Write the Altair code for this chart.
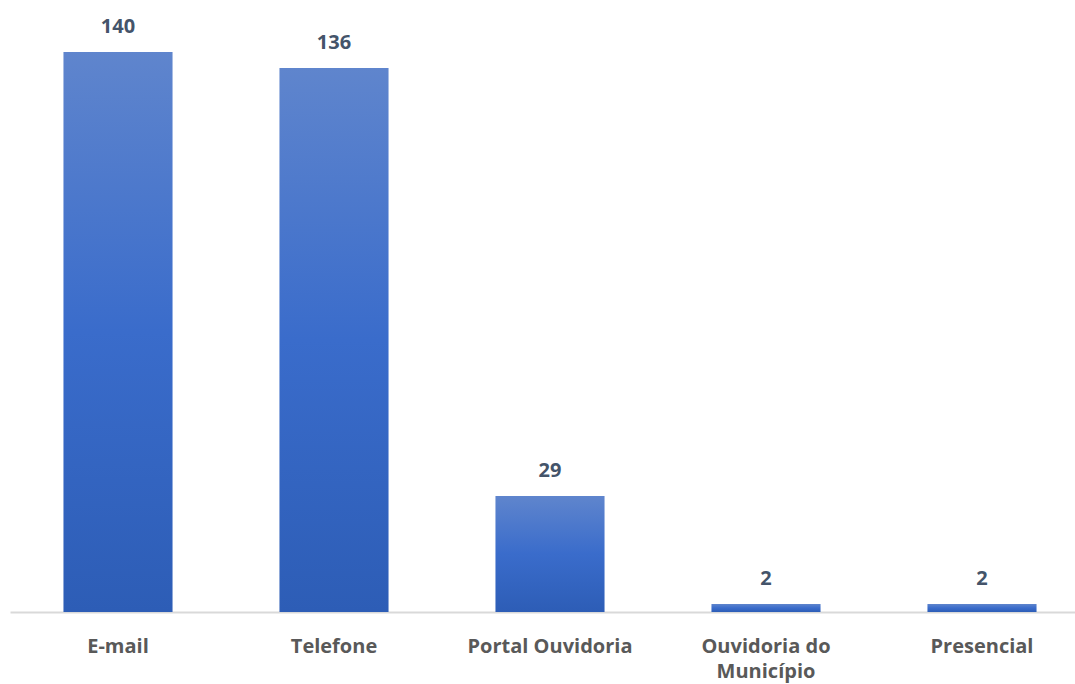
import altair as alt
import pandas as pd

categories = ["E-mail", "Telefone", "Portal Ouvidoria", "Ouvidoria do|Município", "Presencial"]
values = [140, 136, 29, 2, 2]

df = pd.DataFrame({"cat": categories, "val": values})

grad = alt.Gradient(
    gradient="linear",
    stops=[alt.GradientStop(color="#5F85CD", offset=0),
           alt.GradientStop(color="#3A6CCB", offset=0.5),
           alt.GradientStop(color="#2D5DB6", offset=1)],
    x1=0, x2=0, y1=0, y2=1,
)

x = alt.X(
    "cat:N", sort=categories, title=None,
    scale=alt.Scale(range=[0, 1080], paddingInner=0.495, paddingOuter=0.2475),
    axis=alt.Axis(
        labelAngle=0, labelFont="Open Sans", labelFontSize=20, labelFontWeight="bold",
        labelColor="#595959", labelPadding=40, labelLineHeight=25,
        labelBaseline="alphabetic",
        labelExpr="split(datum.label, '|')",
        ticks=False, domainColor="#D9D9D9", domainWidth=2,
    ),
)
y = alt.Y("val:Q", scale=alt.Scale(domain=[0, 153]), axis=None)

bars = alt.Chart(df).mark_bar(color=grad).encode(x=x, y=y)
text = alt.Chart(df).mark_text(
    baseline="alphabetic", dy=-19, font="Open Sans", fontSize=20, fontWeight="bold", color="#44546A"
).encode(x=x, y=y, text="val:Q")

chart = (bars + text).properties(
    width=1065, height=612,
    padding={"left": 10, "top": 0, "right": 0, "bottom": 72},
    autosize=alt.AutoSizeParams(type="none"),
).configure_view(stroke=None)

chart.save("out.html", embed_options={"renderer": "svg", "actions": False})
